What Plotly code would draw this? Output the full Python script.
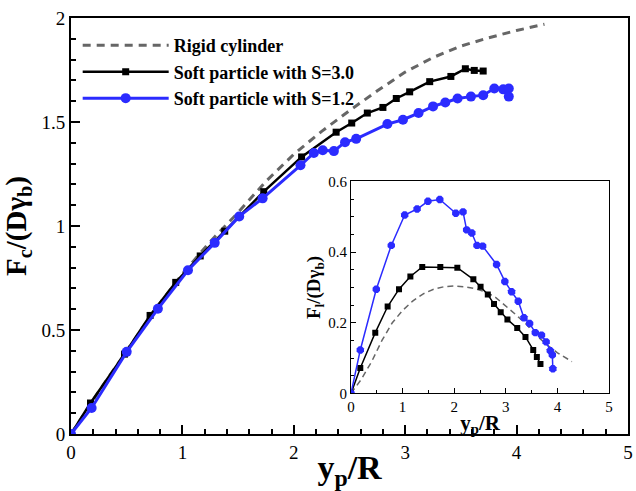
import plotly.graph_objects as go

# ---------------- data ----------------
rigid_x = [0, 0.25, 0.5, 0.75, 1.0, 1.25, 1.5, 1.75, 2.0, 2.25, 2.5, 2.75, 3.0, 3.25, 3.5, 3.75, 4.0, 4.25]
rigid_fc = [0, 0.205, 0.40, 0.595, 0.77, 0.925, 1.065, 1.215, 1.345, 1.455, 1.555, 1.65, 1.74, 1.81, 1.865, 1.905, 1.94, 1.97]

s30_x = [0, 0.175, 0.48, 0.71, 0.94, 1.16, 1.38, 1.73, 2.07, 2.38, 2.52, 2.66, 2.80, 2.92, 3.04, 3.22, 3.41, 3.54, 3.62, 3.70]
s30_fc = [0, 0.149, 0.384, 0.570, 0.729, 0.856, 0.975, 1.165, 1.332, 1.451, 1.495, 1.543, 1.570, 1.613, 1.645, 1.694, 1.719, 1.756, 1.748, 1.745]

s12_x = [0, 0.185, 0.50, 0.78, 1.05, 1.29, 1.51, 1.72, 2.06, 2.18, 2.26, 2.36, 2.46, 2.56, 2.84, 2.98, 3.12, 3.25, 3.36, 3.47, 3.59, 3.70, 3.80, 3.88, 3.93, 3.93]
s12_fc = [0, 0.125, 0.395, 0.602, 0.787, 0.919, 1.046, 1.133, 1.292, 1.351, 1.364, 1.360, 1.403, 1.419, 1.490, 1.511, 1.543, 1.575, 1.594, 1.613, 1.622, 1.629, 1.661, 1.657, 1.661, 1.622]

# inset (lift force)
rigid_lx = [0, 0.2, 0.4, 0.6, 0.8, 1.0, 1.2, 1.4, 1.6, 1.8, 2.0, 2.2, 2.4, 2.6, 2.8, 3.0, 3.2, 3.4, 3.6, 3.8, 4.0, 4.28]
rigid_fl = [0, 0.04, 0.09, 0.15, 0.20, 0.235, 0.262, 0.282, 0.295, 0.302, 0.304, 0.302, 0.297, 0.288, 0.272, 0.248, 0.222, 0.195, 0.163, 0.137, 0.115, 0.09]

s30_lx = [0, 0.18, 0.47, 0.71, 0.93, 1.15, 1.38, 1.73, 2.06, 2.37, 2.51, 2.65, 2.77, 2.90, 3.03, 3.22, 3.38, 3.53, 3.60, 3.67]
s30_fl = [0, 0.072, 0.172, 0.246, 0.295, 0.331, 0.358, 0.358, 0.356, 0.323, 0.302, 0.280, 0.253, 0.230, 0.209, 0.185, 0.160, 0.123, 0.103, 0.083]

s12_lx = [0, 0.18, 0.49, 0.78, 1.04, 1.28, 1.49, 1.72, 2.03, 2.17, 2.24, 2.34, 2.44, 2.55, 2.82, 2.98, 3.11, 3.24, 3.35, 3.46, 3.57, 3.69, 3.78, 3.86, 3.90, 3.91]
s12_fl = [0, 0.123, 0.295, 0.419, 0.505, 0.522, 0.544, 0.549, 0.510, 0.514, 0.463, 0.454, 0.419, 0.417, 0.365, 0.317, 0.288, 0.261, 0.214, 0.198, 0.172, 0.165, 0.146, 0.121, 0.109, 0.070]

names = ["Rigid cylinder", "Soft particle with S=3.0", "Soft particle with S=1.2"]

BLUE = "#2b2bff"
GRAY = "#666666"
FONT = "Liberation Serif, Times New Roman, DejaVu Serif, serif"

fig = go.Figure()

# main
fig.add_trace(go.Scatter(x=rigid_x, y=rigid_fc, mode="lines", name=names[0],
                         line=dict(color=GRAY, width=3, dash="8px,6px")))
fig.add_trace(go.Scatter(x=s30_x, y=s30_fc, mode="lines+markers", name=names[1],
                         line=dict(color="black", width=2.5),
                         marker=dict(symbol="square", size=7, color="black")))
fig.add_trace(go.Scatter(x=s12_x, y=s12_fc, mode="lines+markers", name=names[2],
                         line=dict(color=BLUE, width=3),
                         marker=dict(symbol="circle", size=10, color=BLUE)))

# inset
fig.add_trace(go.Scatter(x=rigid_lx, y=rigid_fl, mode="lines", showlegend=False,
                         xaxis="x2", yaxis="y2",
                         line=dict(color=GRAY, width=1.5, dash="6px,4px")))
fig.add_trace(go.Scatter(x=s30_lx, y=s30_fl, mode="lines+markers", showlegend=False,
                         xaxis="x2", yaxis="y2",
                         line=dict(color="black", width=1.5),
                         marker=dict(symbol="square", size=6, color="black")))
fig.add_trace(go.Scatter(x=s12_lx, y=s12_fl, mode="lines+markers", showlegend=False,
                         xaxis="x2", yaxis="y2",
                         line=dict(color=BLUE, width=1.5),
                         marker=dict(symbol="octagon", size=8, color=BLUE)))

axis_common = dict(showgrid=False, zeroline=False, showline=True, linecolor="black",
                   mirror=True, ticks="inside", tickcolor="black")

fig.update_layout(
    width=636, height=491,
    margin=dict(l=71, r=4, t=18, b=53),
    paper_bgcolor="white", plot_bgcolor="white",
    font=dict(family=FONT, color="black"),
    xaxis=dict(**axis_common, range=[0, 5], dtick=1, linewidth=2, ticklen=9, tickwidth=1.5,
               tickfont=dict(size=19, family=FONT),
               minor=dict(dtick=0.2, ticks="inside", ticklen=5, tickcolor="black"),
               title=dict(text="<b>y<sub>p</sub>/R</b>", font=dict(size=34, family=FONT), standoff=0)),
    yaxis=dict(**axis_common, range=[0, 2], dtick=0.5, linewidth=2, ticklen=9, tickwidth=1.5,
               tickfont=dict(size=19, family=FONT),
               minor=dict(dtick=0.1, ticks="inside", ticklen=5, tickcolor="black"),
               title=dict(text="<b>F<sub>c</sub>/(Dγ<sub>b</sub>)</b>", font=dict(size=29, family=FONT), standoff=10)),
    xaxis2=dict(**axis_common, domain=[0.5027, 0.9661], anchor="y2", range=[0, 5], dtick=1,
                linewidth=1, ticklen=5, tickfont=dict(size=15, family=FONT),
                minor=dict(dtick=0.5, ticks="inside", ticklen=3, tickcolor="black"),
                title=dict(text="<b>y<sub>p</sub>/R</b>", font=dict(size=21, family=FONT), standoff=0)),
    yaxis2=dict(**axis_common, domain=[0.0976, 0.607], anchor="x2", range=[0, 0.6], dtick=0.2,
                linewidth=1, ticklen=5, tickfont=dict(size=15, family=FONT),
                minor=dict(dtick=0.05, ticks="inside", ticklen=3, tickcolor="black"),
                title=dict(text="<b>F<sub>l</sub>/(Dγ<sub>b</sub>)</b>", font=dict(size=19, family=FONT), standoff=2)),
    legend=dict(x=0.012, y=0.978, xanchor="left", yanchor="top",
                bgcolor="rgba(0,0,0,0)", itemwidth=86,
                font=dict(size=18, family=FONT, weight="bold"), tracegroupgap=0),
    showlegend=True,
)

fig.write_html("out.html")
